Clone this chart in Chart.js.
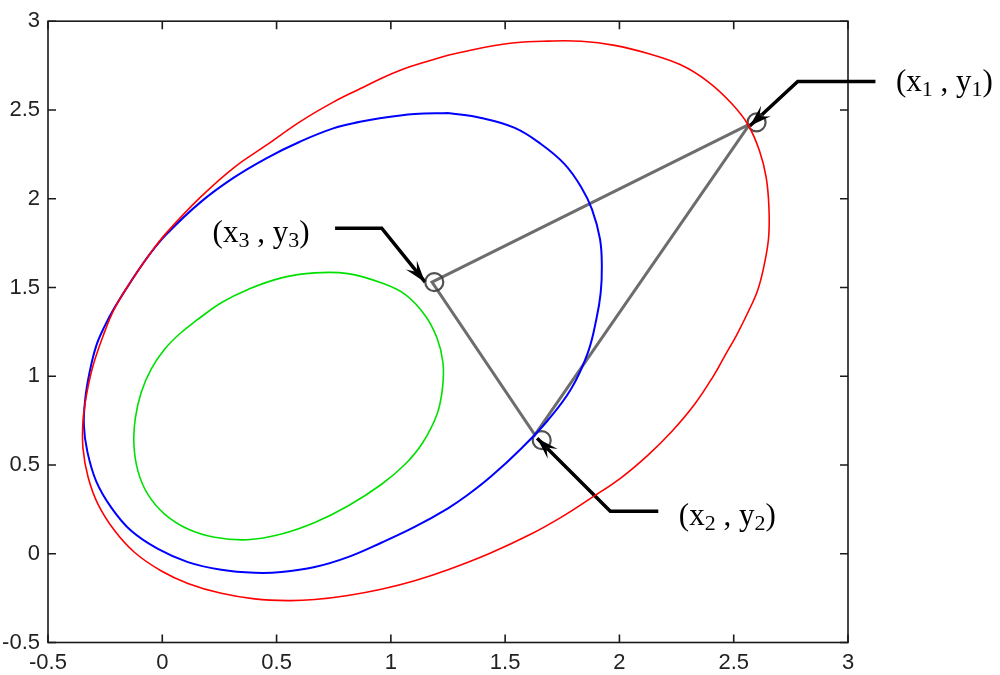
<!DOCTYPE html>
<html>
<head>
<meta charset="utf-8">
<script src="https://cdn.jsdelivr.net/npm/chart.js@4.4.1/dist/chart.umd.min.js"></script>
<style>
  html, body { margin: 0; padding: 0; background: #fff; }
  #wrap { width: 1000px; height: 675px; }
</style>
</head>
<body>
<div id="wrap"><canvas id="chart"></canvas></div>
<script>
// Axis ticks
const tickValues = [-0.5, 0, 0.5, 1, 1.5, 2, 2.5, 3];

// Outer ellipse (red)
const redX = [1.250, 1.395, 1.542, 1.687, 1.833, 1.979, 2.125, 2.270, 2.387, 2.489, 2.562, 2.613, 2.642, 2.654, 2.653, 2.635, 2.606, 2.562, 2.511, 2.461, 2.411, 2.329, 2.230, 2.125, 2.007, 1.877, 1.748, 1.609, 1.434, 1.250, 1.104, 0.958, 0.812, 0.667, 0.550, 0.404, 0.258, 0.112, -0.004, -0.121, -0.208, -0.281, -0.325, -0.347, -0.347, -0.332, -0.303, -0.259, -0.208, -0.134, -0.048, 0.019, 0.165, 0.311, 0.457, 0.602, 0.748, 0.865, 0.979, 1.089];
const redY = [2.808, 2.849, 2.879, 2.888, 2.887, 2.864, 2.818, 2.753, 2.660, 2.539, 2.418, 2.269, 2.120, 1.953, 1.786, 1.637, 1.489, 1.359, 1.228, 1.115, 1.001, 0.842, 0.690, 0.556, 0.428, 0.315, 0.208, 0.108, 0.003, -0.090, -0.152, -0.200, -0.235, -0.258, -0.264, -0.254, -0.223, -0.167, -0.097, 0.007, 0.129, 0.278, 0.434, 0.595, 0.743, 0.892, 1.059, 1.227, 1.383, 1.540, 1.700, 1.809, 2.006, 2.173, 2.303, 2.433, 2.544, 2.619, 2.690, 2.746];

// Middle ellipse (blue)
const blueX = [1.250, 1.395, 1.542, 1.658, 1.760, 1.833, 1.880, 1.915, 1.923, 1.918, 1.899, 1.862, 1.789, 1.687, 1.573, 1.439, 1.337, 1.250, 1.104, 0.958, 0.812, 0.667, 0.521, 0.404, 0.258, 0.112, -0.019, -0.136, -0.223, -0.289, -0.328, -0.343, -0.337, -0.318, -0.289, -0.252, -0.208, -0.134, -0.054, 0.019, 0.165, 0.311, 0.457, 0.602, 0.748, 0.865, 0.958, 1.104];
const blueY = [2.483, 2.455, 2.399, 2.307, 2.195, 2.065, 1.940, 1.773, 1.619, 1.470, 1.321, 1.133, 0.929, 0.752, 0.596, 0.436, 0.332, 0.256, 0.151, 0.062, -0.019, -0.075, -0.103, -0.107, -0.090, -0.047, 0.027, 0.129, 0.260, 0.408, 0.576, 0.724, 0.873, 1.022, 1.171, 1.282, 1.388, 1.540, 1.689, 1.801, 1.978, 2.117, 2.229, 2.321, 2.396, 2.433, 2.455, 2.477];

// Inner ellipse (green)
const greenX = [0.156, 0.258, 0.375, 0.521, 0.667, 0.812, 0.958, 1.062, 1.149, 1.202, 1.228, 1.226, 1.202, 1.137, 1.060, 0.958, 0.812, 0.667, 0.521, 0.375, 0.229, 0.112, 0.010, -0.063, -0.106, -0.124, -0.118, -0.092, -0.048, 0.010, 0.075];
const greenY = [1.321, 1.414, 1.489, 1.554, 1.582, 1.578, 1.526, 1.461, 1.344, 1.215, 1.076, 0.936, 0.786, 0.621, 0.501, 0.390, 0.269, 0.176, 0.111, 0.079, 0.093, 0.139, 0.223, 0.334, 0.464, 0.613, 0.762, 0.910, 1.041, 1.152, 1.238];

// Triangle (v1 -> v3 -> v2 -> v1)
const triX = [2.57, 1.18, 1.63, 2.57];
const triY = [2.42, 1.53, 0.67, 2.42];

// Vertex markers
const vertexX = [2.60, 1.19, 1.66];
const vertexY = [2.43, 1.53, 0.64];

// Callout arrows (start, elbow, tip)
const arrow1X = [3.12, 2.78, 2.57];
const arrow1Y = [2.66, 2.66, 2.41];
const arrow3X = [0.756, 0.96, 1.15];
const arrow3Y = [1.834, 1.834, 1.53];
const arrow2X = [2.17, 1.96, 1.64];
const arrow2Y = [0.24, 0.24, 0.65];

// Callout labels (left edge, middle)
const labelIds = ['1', '3', '2'];
const labelX = [3.21, 0.22, 2.26];
const labelY = [2.645, 1.795, 0.20];

function toPoints(xs, ys, close) {
    const pts = xs.map((x, i) => ({ x: x, y: ys[i] }));
    if (close) pts.push({ x: xs[0], y: ys[0] });
    return pts;
}

function ellipseSet(xs, ys, color, width) {
    return {
        data: toPoints(xs, ys, true),
        showLine: true,
        borderColor: color,
        borderWidth: width,
        pointRadius: 0,
        tension: 0.4,
        fill: false
    };
}

function arrowSet(xs, ys) {
    return {
        data: toPoints(xs, ys, false),
        showLine: true,
        borderColor: '#000',
        borderWidth: 3.5,
        pointRadius: 0,
        tension: 0,
        clip: false,
        isArrow: true
    };
}

// Box round the plot with inward tick marks on all sides
const frameTicks = {
    id: 'frameTicks',
    beforeDatasetsDraw(chart) {
        const { ctx, chartArea: a, scales } = chart;
        const len = 8;
        ctx.save();
        ctx.strokeStyle = '#1a1a1a';
        ctx.lineWidth = 1.6;
        ctx.strokeRect(a.left, a.top, a.right - a.left, a.bottom - a.top);
        ctx.beginPath();
        tickValues.forEach(v => {
            const px = scales.x.getPixelForValue(v);
            const py = scales.y.getPixelForValue(v);
            ctx.moveTo(px, a.bottom); ctx.lineTo(px, a.bottom - len);
            ctx.moveTo(px, a.top); ctx.lineTo(px, a.top + len);
            ctx.moveTo(a.left, py); ctx.lineTo(a.left + len, py);
            ctx.moveTo(a.right, py); ctx.lineTo(a.right - len, py);
        });
        ctx.stroke();
        ctx.restore();
    }
};

// Arrow heads and the (x, y) callout texts
const callouts = {
    id: 'callouts',
    afterDatasetsDraw(chart) {
        const { ctx, scales } = chart;
        ctx.save();
        chart.data.datasets.forEach((ds, i) => {
            if (!ds.isArrow) return;
            const pts = chart.getDatasetMeta(i).data;
            const tip = pts[pts.length - 1];
            const prev = pts[pts.length - 2];
            const dx = tip.x - prev.x, dy = tip.y - prev.y;
            const d = Math.hypot(dx, dy);
            const ux = dx / d, uy = dy / d;
            const nx = -uy, ny = ux;
            const L = 22, W = 7, N = 13;
            ctx.fillStyle = '#000';
            ctx.beginPath();
            ctx.moveTo(tip.x, tip.y);
            ctx.lineTo(tip.x - ux * L + nx * W, tip.y - uy * L + ny * W);
            ctx.lineTo(tip.x - ux * N, tip.y - uy * N);
            ctx.lineTo(tip.x - ux * L - nx * W, tip.y - uy * L - ny * W);
            ctx.closePath();
            ctx.fill();
        });

        const big = '31px "Liberation Serif"';
        const small = '22px "Liberation Serif"';
        ctx.fillStyle = '#000';
        ctx.textAlign = 'left';
        ctx.textBaseline = 'alphabetic';
        labelIds.forEach((id, i) => {
            let x = scales.x.getPixelForValue(labelX[i]);
            const base = scales.y.getPixelForValue(labelY[i]) + 7;
            const parts = [['(x', big, 0], [id, small, 5], [' , y', big, 0], [id, small, 5], [')', big, 0]];
            parts.forEach(([t, f, dy]) => {
                ctx.font = f;
                ctx.fillText(t, x, base + dy);
                x += ctx.measureText(t).width;
            });
        });
        ctx.restore();
    }
};

const tickFont = { family: '"Liberation Sans", Arial, sans-serif', size: 22 };

new Chart(document.getElementById('chart'), {
    type: 'scatter',
    data: {
        datasets: [
            ellipseSet(redX, redY, '#ff0000', 1.6),
            ellipseSet(blueX, blueY, '#0000ff', 2),
            ellipseSet(greenX, greenY, '#00e000', 1.6),
            {
                data: toPoints(triX, triY, false),
                showLine: true,
                borderColor: 'rgba(60, 60, 60, 0.75)',
                borderWidth: 3,
                pointRadius: 0,
                tension: 0
            },
            {
                data: toPoints(vertexX, vertexY, false),
                showLine: false,
                pointStyle: 'circle',
                pointRadius: 9,
                pointBorderWidth: 2.2,
                pointBorderColor: 'rgba(50, 50, 50, 0.85)',
                pointBackgroundColor: 'rgba(0, 0, 0, 0)'
            },
            arrowSet(arrow1X, arrow1Y),
            arrowSet(arrow3X, arrow3Y),
            arrowSet(arrow2X, arrow2Y)
        ]
    },
    options: {
        responsive: true,
        maintainAspectRatio: false,
        animation: false,
        layout: {
            padding: { top: 15, right: 152, left: 0, bottom: 0 }
        },
        plugins: {
            legend: { display: false },
            tooltip: { enabled: false }
        },
        scales: {
            x: {
                type: 'linear',
                min: -0.5,
                max: 3,
                grid: { display: false, drawTicks: false },
                border: { display: false },
                afterBuildTicks: s => { s.ticks = tickValues.map(v => ({ value: v })); },
                ticks: {
                    font: tickFont,
                    color: '#222',
                    padding: 7,
                    maxRotation: 0,
                    autoSkip: false,
                    callback: v => String(v)
                },
                afterFit: s => { s.height = 32.5; }
            },
            y: {
                type: 'linear',
                min: -0.5,
                max: 3,
                grid: { display: false, drawTicks: false },
                border: { display: false },
                afterBuildTicks: s => { s.ticks = tickValues.map(v => ({ value: v })); },
                ticks: {
                    font: tickFont,
                    color: '#222',
                    padding: 8,
                    autoSkip: false,
                    callback: v => String(v)
                },
                afterFit: s => { s.width = 48; }
            }
        }
    },
    plugins: [frameTicks, callouts]
});
</script>
</body>
</html>
